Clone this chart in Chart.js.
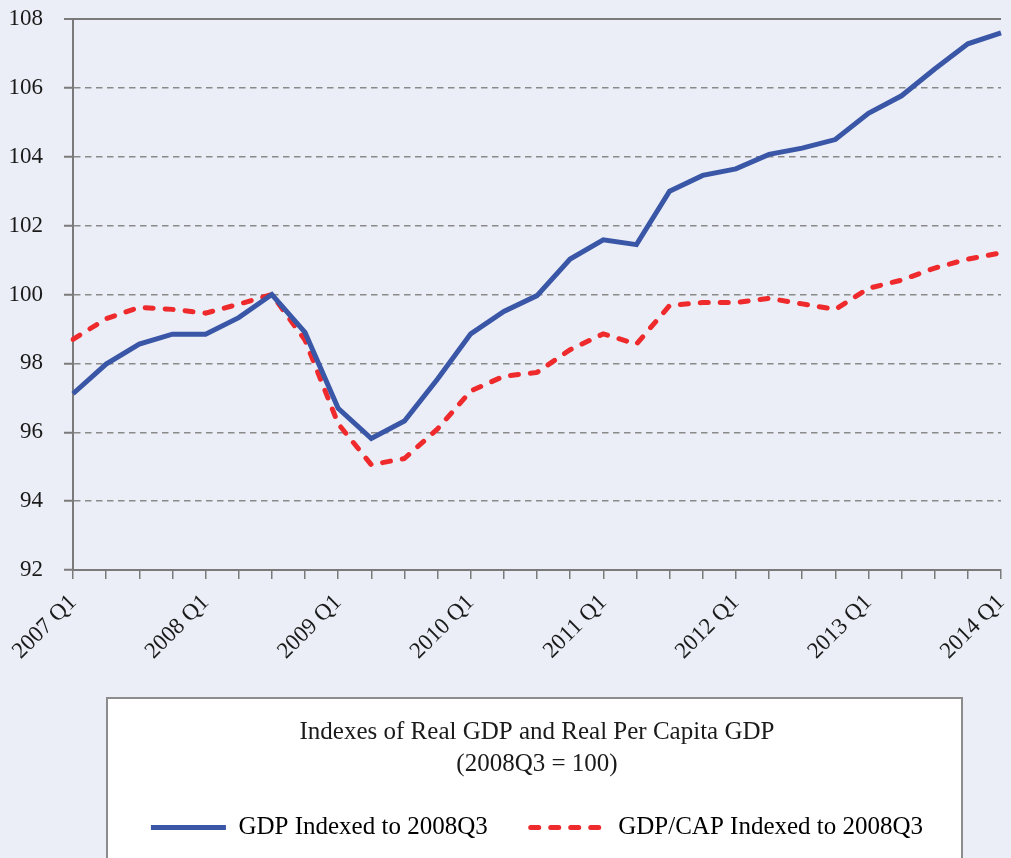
<!DOCTYPE html>
<html>
<head>
<meta charset="utf-8">
<script src="https://cdn.jsdelivr.net/npm/chart.js@4"></script>
<style>
  html, body { margin: 0; padding: 0; background: #ebeef6; }
  #wrap { position: relative; width: 1011px; height: 858px; }
</style>
</head>
<body>
<div id="wrap"><canvas id="gdp-chart"></canvas></div>
<script>
const quarters = [
  '2007 Q1', '2007 Q2', '2007 Q3', '2007 Q4',
  '2008 Q1', '2008 Q2', '2008 Q3', '2008 Q4',
  '2009 Q1', '2009 Q2', '2009 Q3', '2009 Q4',
  '2010 Q1', '2010 Q2', '2010 Q3', '2010 Q4',
  '2011 Q1', '2011 Q2', '2011 Q3', '2011 Q4',
  '2012 Q1', '2012 Q2', '2012 Q3', '2012 Q4',
  '2013 Q1', '2013 Q2', '2013 Q3', '2013 Q4',
  '2014 Q1'
];

// GDP indexed to 2008Q3 = 100
const gdpIndex = [97.12, 97.98, 98.56, 98.85, 98.85, 99.33, 100, 98.9, 96.7, 95.82, 96.33, 97.55, 98.86, 99.51, 99.97, 101.03, 101.59, 101.45, 103.0, 103.46, 103.65, 104.07, 104.25, 104.5, 105.26, 105.77, 106.55, 107.28, 107.6];

// GDP per capita indexed to 2008Q3 = 100
const gdpCapIndex = [98.7, 99.3, 99.63, 99.57, 99.46, 99.72, 100, 98.68, 96.25, 95.06, 95.24, 96.1, 97.2, 97.63, 97.74, 98.4, 98.86, 98.56, 99.68, 99.77, 99.77, 99.89, 99.73, 99.57, 100.18, 100.42, 100.77, 101.03, 101.21];

const yTicks = [92, 94, 96, 98, 100, 102, 104, 106, 108];

const titleLines = ['Indexes of Real GDP and Real Per Capita GDP', '(2008Q3 = 100)'];

const serif = 'Liberation Serif';

// white framed box behind the title + legend
const legendFrame = {
  id: 'legendFrame',
  beforeDraw(chart) {
    const t = chart.titleBlock;
    if (!t) return;
    const ctx = chart.ctx;
    const top = t.bottom - 74;
    ctx.save();
    ctx.fillStyle = '#ffffff';
    ctx.fillRect(107, top, 855, 220);
    ctx.strokeStyle = '#8c8c8c';
    ctx.lineWidth = 2;
    ctx.strokeRect(107, top, 855, 220);
    ctx.restore();
  }
};

new Chart(document.getElementById('gdp-chart'), {
  type: 'line',
  data: {
    labels: quarters,
    datasets: [
      {
        label: 'GDP Indexed to 2008Q3',
        data: gdpIndex,
        borderColor: '#3a56a6',
        backgroundColor: '#3a56a6',
        borderWidth: 5,
        pointRadius: 0,
        tension: 0
      },
      {
        label: 'GDP/CAP Indexed to 2008Q3',
        data: gdpCapIndex,
        borderColor: '#ee2a2c',
        backgroundColor: '#ee2a2c',
        borderWidth: 5,
        borderDash: [8, 12],
        borderCapStyle: 'round',
        pointRadius: 0,
        tension: 0
      }
    ]
  },
  options: {
    responsive: true,
    maintainAspectRatio: false,
    animation: false,
    layout: {
      padding: { left: 8, right: 10, top: 19, bottom: 8 }
    },
    scales: {
      x: {
        offset: false,
        afterFit: function(scale) {
          scale.paddingLeft = 0; // let the y axis decide the left edge
          scale.paddingRight = 0;
        },
        grid: {
          drawOnChartArea: false,
          drawTicks: true,
          tickLength: 9,
          color: '#7a7a7a',
          lineWidth: 1.5
        },
        border: { color: '#7a7a7a', width: 2 },
        ticks: {
          autoSkip: false,
          maxRotation: 45,
          minRotation: 45,
          padding: 10,
          color: '#1a1a1a',
          font: { family: serif, size: 23 },
          callback: function(value, index) {
            return index % 4 === 0 ? quarters[index] : '';
          }
        }
      },
      y: {
        min: yTicks[0],
        max: yTicks[yTicks.length - 1],
        afterBuildTicks: function(axis) {
          axis.ticks = yTicks.map(v => ({ value: v }));
        },
        afterFit: function(scale) {
          scale.paddingTop = 0;
          scale.paddingBottom = 0;
          scale.width = 65;
        },
        grid: {
          drawTicks: true,
          tickLength: 9,
          color: function(ctx) {
            return ctx.tick && ctx.tick.value === 108 ? '#7a7a7a' : '#8a8a8a';
          },
          lineWidth: function(ctx) {
            return ctx.tick && ctx.tick.value === 108 ? 2 : 1.5;
          },
          tickColor: '#7a7a7a',
          tickWidth: 2,
          tickBorderDash: []
        },
        border: {
          color: '#7a7a7a',
          width: 2,
          dash: function(ctx) {
            return ctx.tick && ctx.tick.value === 108 ? [] : [6.5, 4.5];
          }
        },
        ticks: {
          padding: 21,
          color: '#1a1a1a',
          font: { family: serif, size: 23 }
        }
      }
    },
    plugins: {
      title: {
        display: true,
        position: 'bottom',
        fullSize: false,
        weight: 500,
        text: titleLines,
        color: '#1a1a1a',
        font: { family: serif, size: 25, weight: 'normal', lineHeight: 32 / 25 },
        padding: { top: 40.9, bottom: -8 }
      },
      legend: {
        display: true,
        position: 'bottom',
        fullSize: false,
        weight: 1000,
        labels: {
          usePointStyle: true,
          pointStyleWidth: 75,
          boxHeight: 25,
          padding: 43,
          color: '#1a1a1a',
          font: { family: serif, size: 25 },
          generateLabels: function(chart) {
            return chart.data.datasets.map((ds, i) => ({
              text: ds.label,
              fillStyle: ds.borderColor,
              strokeStyle: ds.borderColor,
              lineWidth: ds.borderWidth,
              lineDash: ds.borderDash || [],
              lineCap: ds.borderCapStyle || 'butt',
              pointStyle: 'line',
              hidden: false,
              datasetIndex: i
            }));
          }
        }
      },
      tooltip: { enabled: false }
    }
  },
  plugins: [legendFrame]
});
</script>
</body>
</html>
